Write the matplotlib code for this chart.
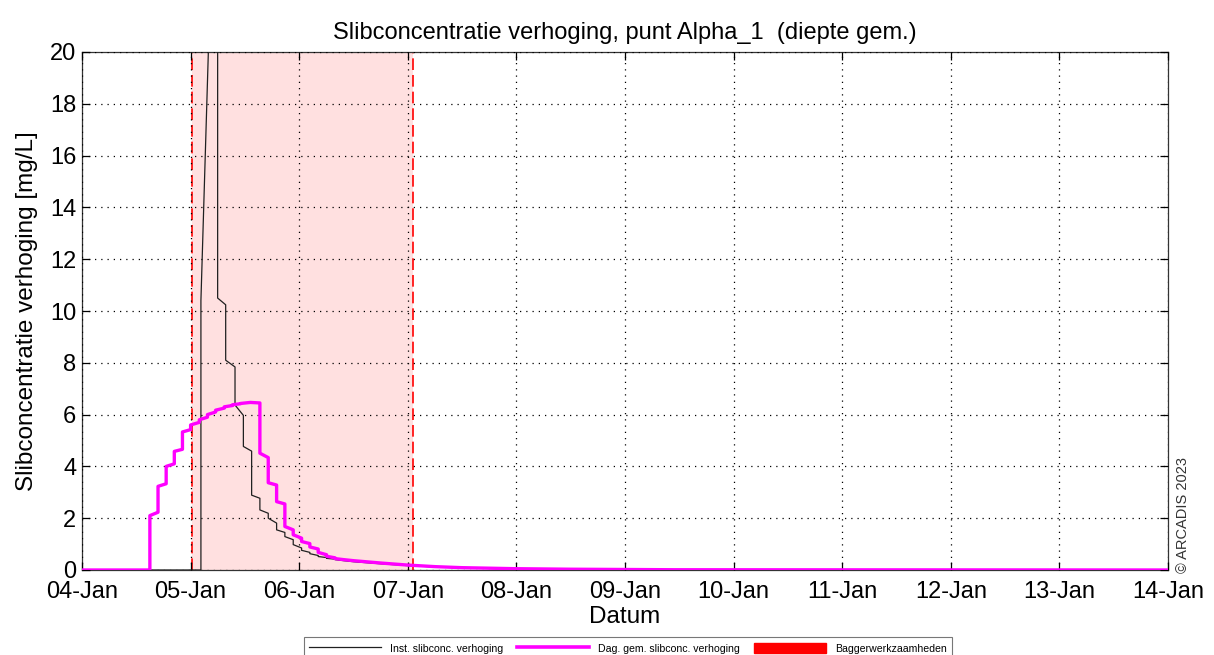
import datetime as dt
import matplotlib
matplotlib.use("Agg")
import matplotlib.pyplot as plt
import matplotlib.dates as mdates
from matplotlib.lines import Line2D
from matplotlib.patches import Patch

plt.rcParams['font.family'] = ['Liberation Sans', 'DejaVu Sans']

# ---- data (days since 04-Jan 00:00) ----
start_date = dt.datetime(2023, 1, 4)
end_date = dt.datetime(2023, 1, 14)

inst_days = [0, 1.095, 1.095, 1.249, 1.249, 1.323, 1.323, 1.409, 1.409, 1.486, 1.486,
             1.562, 1.562, 1.638, 1.638, 1.715, 1.715, 1.792, 1.792, 1.868, 1.868,
             1.945, 1.945, 2.022, 2.022, 2.098, 2.098, 2.175, 2.175, 2.252, 2.252,
             2.33, 2.33, 2.41, 2.5, 2.75, 3.0, 3.25, 3.5, 4.0, 4.5, 5.0, 6.0, 10.0]
inst_vals = [0, 0, 10.4, 32.0, 10.5, 10.24, 8.1, 7.84, 6.37, 5.97, 4.77,
             4.59, 2.89, 2.77, 2.32, 2.19, 2.0, 1.81, 1.55, 1.45, 1.29,
             1.17, 0.98, 0.85, 0.76, 0.68, 0.63, 0.56, 0.52, 0.48, 0.45,
             0.42, 0.40, 0.36, 0.32, 0.24, 0.17, 0.12, 0.08, 0.04, 0.02, 0.01, 0.0, 0.0]

dag_days = [0, 0.625, 0.625, 0.70, 0.70, 0.775, 0.775, 0.85, 0.85, 0.925, 0.925,
            1.0, 1.0, 1.08, 1.08, 1.155, 1.155, 1.23, 1.23, 1.31, 1.31, 1.385, 1.385,
            1.46, 1.46, 1.55, 1.638, 1.638, 1.715, 1.715, 1.792, 1.792, 1.868, 1.868,
            1.945, 1.945, 2.022, 2.022, 2.098, 2.098, 2.175, 2.175, 2.252, 2.252,
            2.33, 2.33, 2.41, 2.5, 2.75, 3.0, 3.25, 3.5, 4.0, 4.5, 5.0, 5.45, 10.0]
dag_vals = [0, 0, 2.1, 2.23, 3.23, 3.33, 4.0, 4.1, 4.58, 4.66, 5.33,
            5.42, 5.6, 5.7, 5.8, 5.9, 6.0, 6.1, 6.17, 6.25, 6.3, 6.35, 6.38,
            6.42, 6.43, 6.47, 6.45, 4.51, 4.34, 3.37, 3.28, 2.64, 2.55, 1.68,
            1.55, 1.36, 1.23, 1.10, 1.02, 0.89, 0.81, 0.68, 0.59, 0.53,
            0.47, 0.44, 0.40, 0.36, 0.27, 0.19, 0.13, 0.09, 0.05, 0.03, 0.02, 0.01, 0.0]

dredge_start_day = 1.015
dredge_end_day = 3.047

y_ticks = [0, 2, 4, 6, 8, 10, 12, 14, 16, 18, 20]

title = "Slibconcentratie verhoging, punt Alpha_1  (diepte gem.)"
ylabel = "Slibconcentratie verhoging [mg/L]"
xlabel = "Datum"
legend_labels = ["Inst. slibconc. verhoging", "Dag. gem. slibconc. verhoging", "Baggerwerkzaamheden"]

def to_dates(days):
    return [start_date + dt.timedelta(days=d) for d in days]

# ---- figure ----
fig = plt.figure(figsize=(12.14, 6.55), dpi=100)
ax = fig.add_axes([82/1214, 1-570/655, 1086/1214, 518/655])

ds = start_date + dt.timedelta(days=dredge_start_day)
de = start_date + dt.timedelta(days=dredge_end_day)
ax.axvspan(ds, de, facecolor=(1.0, 0.0, 0.0), alpha=0.12, lw=0, zorder=0)
for d in (ds, de):
    ax.axvline(d, color='red', lw=1.2, ls=(0, (7, 3)), zorder=1)

ax.plot(to_dates(inst_days), inst_vals, color='#202020', lw=0.9, zorder=3)
ax.plot(to_dates(dag_days), dag_vals, color='#FF00FF', lw=2.4, zorder=4)

ax.set_xlim(start_date, end_date)
ax.set_ylim(0, 20)
ax.set_yticks(y_ticks)
ax.xaxis.set_major_locator(mdates.DayLocator())
ax.xaxis.set_major_formatter(mdates.DateFormatter('%d-%b'))

ax.grid(True, color='black', ls=(0, (1, 4)), lw=0.9)
ax.set_axisbelow(False)
ax.tick_params(direction='in', length=6, width=0.9, top=True, right=True,
               labelsize=17)
ax.tick_params(axis='x', pad=8)
ax.tick_params(axis='y', pad=4)
for s in ax.spines.values():
    s.set_linewidth(0.9)
    s.set_color('#333333')

ax.set_title(title, fontsize=17, pad=9)
ax.set_ylabel(ylabel, fontsize=17.5, labelpad=9)
ax.set_xlabel(xlabel, fontsize=17.5, labelpad=2)

handles = [Line2D([], [], color='#202020', lw=0.9),
           Line2D([], [], color='#FF00FF', lw=2.6),
           Patch(facecolor='red', edgecolor='red')]
leg = fig.legend(handles, legend_labels, loc='upper center', ncol=3,
                 bbox_to_anchor=(628/1214, 1-632/655), fontsize=7.6,
                 frameon=True, fancybox=False, edgecolor='#555555',
                 handlelength=6.8, handleheight=1.2, handletextpad=0.9,
                 columnspacing=1.3, borderpad=0.5)
leg.get_frame().set_linewidth(0.8)

fig.text(1183/1214, 1-573/655, "© ARCADIS 2023", rotation=90, ha='center', va='bottom',
         fontsize=10.5, color='#333333')

fig.savefig("out.png", dpi=100)
